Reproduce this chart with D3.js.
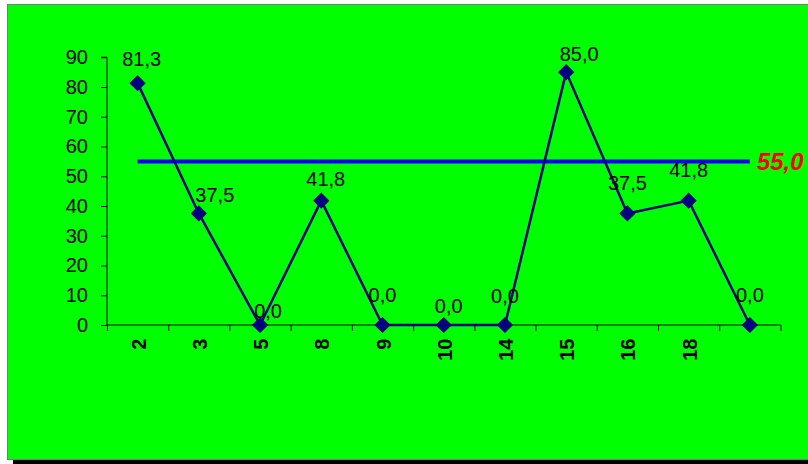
<!DOCTYPE html>
<html>
<head>
<meta charset="utf-8">
<script src="https://cdn.jsdelivr.net/npm/d3@7"></script>
<style>
  body { margin: 0; background: #ffffff; }
  svg { display: block; }
  text { font-family: "Liberation Sans", Arial, sans-serif; }
</style>
</head>
<body>
<svg id="chart" width="808" height="464"></svg>
<script>
// ---- data ----
const categories = ["2", "3", "5", "8", "9", "10", "14", "15", "16", "18", ""];
const values = [81.3, 37.5, 0.0, 41.8, 0.0, 0.0, 0.0, 85.0, 37.5, 41.8, 0.0];
const targetValue = 55.0;
const yTicks = [0, 10, 20, 30, 40, 50, 60, 70, 80, 90];

// label placement offsets (manually moved labels in the original)
const labelDx = [4, 16, 8, 4.5, 0, 5, 0, 13, 0, 0, 0];
const labelDy = [-17.4, -11.7, -7, -15, -23, -12, -22, -11, -23, -23.6, -23];

const svg = d3.select("#chart");

// chart area frame with shadow
svg.append("rect").attr("x", 13).attr("y", 10).attr("width", 820).attr("height", 454).attr("fill", "#000");
svg.append("rect").attr("x", 7.5).attr("y", 4.5).attr("width", 820).attr("height", 455)
  .attr("fill", "#00ff00").attr("stroke", "#7a7a7a").attr("stroke-width", 1);

const plot = { left: 107, right: 780.5, top: 57.25, bottom: 325 };

const x = d3.scaleBand().domain(d3.range(categories.length)).range([plot.left, plot.right]).padding(0);
const xEdge = d3.scaleLinear().domain([0, categories.length]).range([plot.left, plot.right]);
const y = d3.scaleLinear().domain([0, 90]).range([plot.bottom, plot.top]);
const cx = i => x(i) + x.bandwidth() / 2;

// y axis
const yAxis = svg.append("g").attr("transform", `translate(${plot.left},0)`)
  .call(d3.axisLeft(y).tickValues(yTicks).tickSize(6).tickPadding(13).tickFormat(d3.format("d")));
yAxis.selectAll("path, line").attr("stroke", "#000").attr("stroke-width", 1);
yAxis.select(".domain").attr("d", `M-6,${y(90)}H0V${y(0)}`);
yAxis.selectAll("text").attr("font-size", 20).attr("fill", "#000")
  .attr("font-family", "Liberation Sans, Arial, sans-serif");

// x axis: ticks at category boundaries
const xAxis = svg.append("g").attr("transform", `translate(0,${plot.bottom})`)
  .call(d3.axisBottom(xEdge).tickValues(d3.range(categories.length + 1)).tickSize(6).tickFormat(""));
xAxis.selectAll("path, line").attr("stroke", "#000").attr("stroke-width", 1);
xAxis.select(".domain").attr("d", `M${plot.left},0H${plot.right}`);

// x category labels, rotated
svg.append("g").selectAll("text").data(categories).join("text")
  .attr("transform", (d, i) => `translate(${cx(i) + 1},${plot.bottom + 13.5}) rotate(-90)`)
  .attr("text-anchor", "end")
  .attr("dy", "0.35em")
  .attr("font-size", 20)
  .attr("font-weight", "bold")
  .attr("fill", "#000")
  .text(d => d);

// target line
svg.append("line")
  .attr("x1", cx(0)).attr("x2", cx(categories.length - 1))
  .attr("y1", y(targetValue)).attr("y2", y(targetValue))
  .attr("stroke", "#0000ff").attr("stroke-width", 4);
svg.append("text")
  .attr("x", cx(categories.length - 1) + 7)
  .attr("y", y(targetValue) + 9)
  .attr("font-size", 24).attr("font-weight", "bold").attr("font-style", "italic")
  .attr("fill", "#ff0000")
  .text(d3.format(".1f")(targetValue).replace(".", ","));

// data line
const line = d3.line().x((d, i) => cx(i)).y(d => y(d));
svg.append("path").datum(values)
  .attr("d", line).attr("fill", "none")
  .attr("stroke", "#000080").attr("stroke-width", 2.5).attr("stroke-linejoin", "round");

// diamond markers
const diamond = d3.symbol().type(d3.symbolSquare).size(110);
svg.append("g").selectAll("path").data(values).join("path")
  .attr("d", diamond)
  .attr("transform", (d, i) => `translate(${cx(i)},${y(d)}) rotate(45)`)
  .attr("fill", "#000080").attr("stroke", "#000080").attr("stroke-width", 1);

// data labels
svg.append("g").selectAll("text").data(values).join("text")
  .attr("x", (d, i) => cx(i) + labelDx[i])
  .attr("y", (d, i) => y(d) + labelDy[i])
  .attr("text-anchor", "middle")
  .attr("font-size", 20)
  .attr("fill", "#000")
  .text(d => d3.format(".1f")(d).replace(".", ","));
</script>
</body>
</html>
